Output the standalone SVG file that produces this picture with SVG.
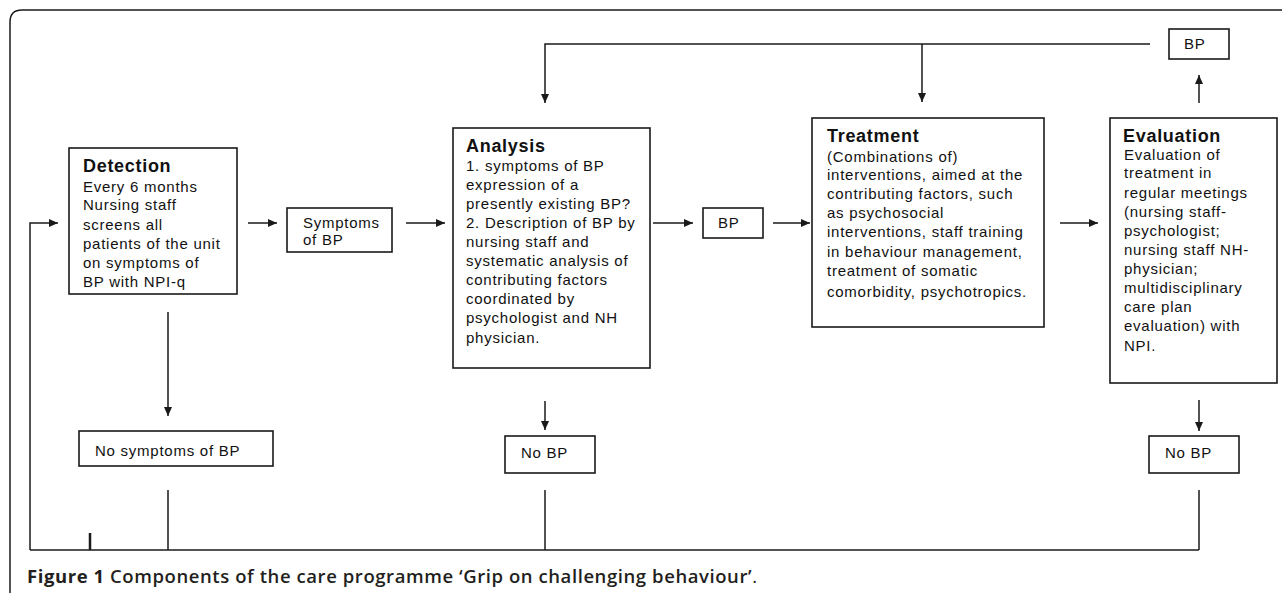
<svg xmlns="http://www.w3.org/2000/svg" width="1282" height="593" viewBox="0 0 1282 593">
<style>
.box{fill:#fff;stroke:#1a1a1a;stroke-width:1.6}
.ln{fill:none;stroke:#1a1a1a;stroke-width:1.5}
.arr{fill:none;stroke:#1a1a1a;stroke-width:1.5;marker-end:url(#ah)}
.t{font-family:"Liberation Sans",Arial,sans-serif;font-size:15px;letter-spacing:0.75px;fill:#111}
.h{font-family:"Liberation Sans",Arial,sans-serif;font-size:18px;font-weight:bold;letter-spacing:0.7px;fill:#111}
.cap{font-family:"Open Sans","Noto Sans",sans-serif;font-size:18.5px;fill:#231f20}
</style>
<defs>
<marker id="ah" markerWidth="9" markerHeight="8" refX="9" refY="4" orient="auto" markerUnits="userSpaceOnUse">
<path d="M0,0 L9,4 L0,8 Z" fill="#1a1a1a"/>
</marker>
</defs>
<rect width="1282" height="593" fill="#fff"/>
<path class="ln" d="M10,593 V22 Q10,10 22,10 H1282"/>

<g id="connectors">
<path class="arr" d="M30,550 V223 H58"/>
<path class="ln" d="M30,550 H1199"/>
<path class="ln" d="M90,533 V550" style="stroke-width:2.5"/>
<path class="arr" d="M248,223 H277"/>
<path class="arr" d="M406,223 H445"/>
<path class="arr" d="M653,223 H693"/>
<path class="arr" d="M773,223 H810"/>
<path class="arr" d="M1060,223 H1098"/>
<path class="arr" d="M1199,103 V75"/>
<path class="arr" d="M1150,44 H545 V103"/>
<path class="arr" d="M922,44 V102"/>
<path class="arr" d="M168,312 V416"/>
<path class="arr" d="M545,401 V430"/>
<path class="arr" d="M1199,400 V431"/>
<path class="ln" d="M168,490 V550"/>
<path class="ln" d="M545,490 V550"/>
<path class="ln" d="M1199,490 V550"/>
</g>

<g id="detection">
<rect class="box" x="69" y="148" width="168" height="146"/>
<text class="h" x="83" y="172">Detection</text>
<text class="t"><tspan x="83" y="192">Every 6 months</tspan><tspan x="83" y="210">Nursing staff</tspan><tspan x="83" y="230">screens all</tspan><tspan x="83" y="249">patients  of the unit</tspan><tspan x="83" y="268">on symptoms of</tspan><tspan x="83" y="287">BP with NPI-q</tspan></text>
</g>

<g id="symptoms">
<rect class="box" x="287" y="208" width="105" height="44"/>
<text class="t"><tspan x="303" y="228">Symptoms</tspan><tspan x="303" y="245">of BP</tspan></text>
</g>

<g id="analysis">
<rect class="box" x="453" y="128" width="197" height="240"/>
<text class="h" x="466" y="152">Analysis</text>
<text class="t"><tspan x="466" y="171">1. symptoms of BP</tspan><tspan x="466" y="190">expression of a</tspan><tspan x="466" y="209">presently existing BP?</tspan><tspan x="466" y="228">2. Description of BP by</tspan><tspan x="466" y="247">nursing staff and</tspan><tspan x="466" y="266">systematic analysis of</tspan><tspan x="466" y="285">contributing factors</tspan><tspan x="466" y="304">coordinated by</tspan><tspan x="466" y="323">psychologist and NH</tspan><tspan x="466" y="343">physician.</tspan></text>
</g>

<g id="bp-mid">
<rect class="box" x="703" y="208" width="60" height="30"/>
<text class="t" x="718" y="228">BP</text>
</g>

<g id="treatment">
<rect class="box" x="812" y="118" width="232" height="209"/>
<text class="h" x="827" y="142">Treatment</text>
<text class="t"><tspan x="827" y="162">(Combinations of)</tspan><tspan x="827" y="180">interventions, aimed at the</tspan><tspan x="827" y="199">contributing factors, such</tspan><tspan x="827" y="218">as psychosocial</tspan><tspan x="827" y="237">interventions, staff training</tspan><tspan x="827" y="257">in behaviour management,</tspan><tspan x="827" y="276">treatment of somatic</tspan><tspan x="827" y="297">comorbidity, psychotropics.</tspan></text>
</g>

<g id="evaluation">
<rect class="box" x="1110" y="118" width="167" height="265"/>
<text class="h" x="1123" y="142">Evaluation</text>
<text class="t"><tspan x="1124" y="160">Evaluation of</tspan><tspan x="1124" y="178">treatment in</tspan><tspan x="1124" y="198">regular meetings</tspan><tspan x="1124" y="217">(nursing staff-</tspan><tspan x="1124" y="236">psychologist;</tspan><tspan x="1124" y="255">nursing staff NH-</tspan><tspan x="1124" y="274">physician;</tspan><tspan x="1124" y="293">multidisciplinary</tspan><tspan x="1124" y="312">care plan</tspan><tspan x="1124" y="331">evaluation) with</tspan><tspan x="1124" y="351">NPI.</tspan></text>
</g>

<g id="bp-top">
<rect class="box" x="1169" y="29" width="60" height="30"/>
<text class="t" x="1184" y="49">BP</text>
</g>

<g id="no-symptoms">
<rect class="box" x="79" y="431" width="194" height="35"/>
<text class="t" x="95" y="456">No symptoms of BP</text>
</g>

<g id="no-bp-analysis">
<rect class="box" x="505" y="436" width="90" height="37"/>
<text class="t" x="521" y="458">No BP</text>
</g>

<g id="no-bp-evaluation">
<rect class="box" x="1149" y="436" width="90" height="37"/>
<text class="t" x="1165" y="458">No BP</text>
</g>

<text class="cap" x="27" y="583" textLength="730" lengthAdjust="spacing"><tspan font-weight="700">Figure 1</tspan><tspan font-weight="600"> Components of the care programme ‘Grip on challenging behaviour’</tspan><tspan font-weight="400">.</tspan></text>
</svg>
